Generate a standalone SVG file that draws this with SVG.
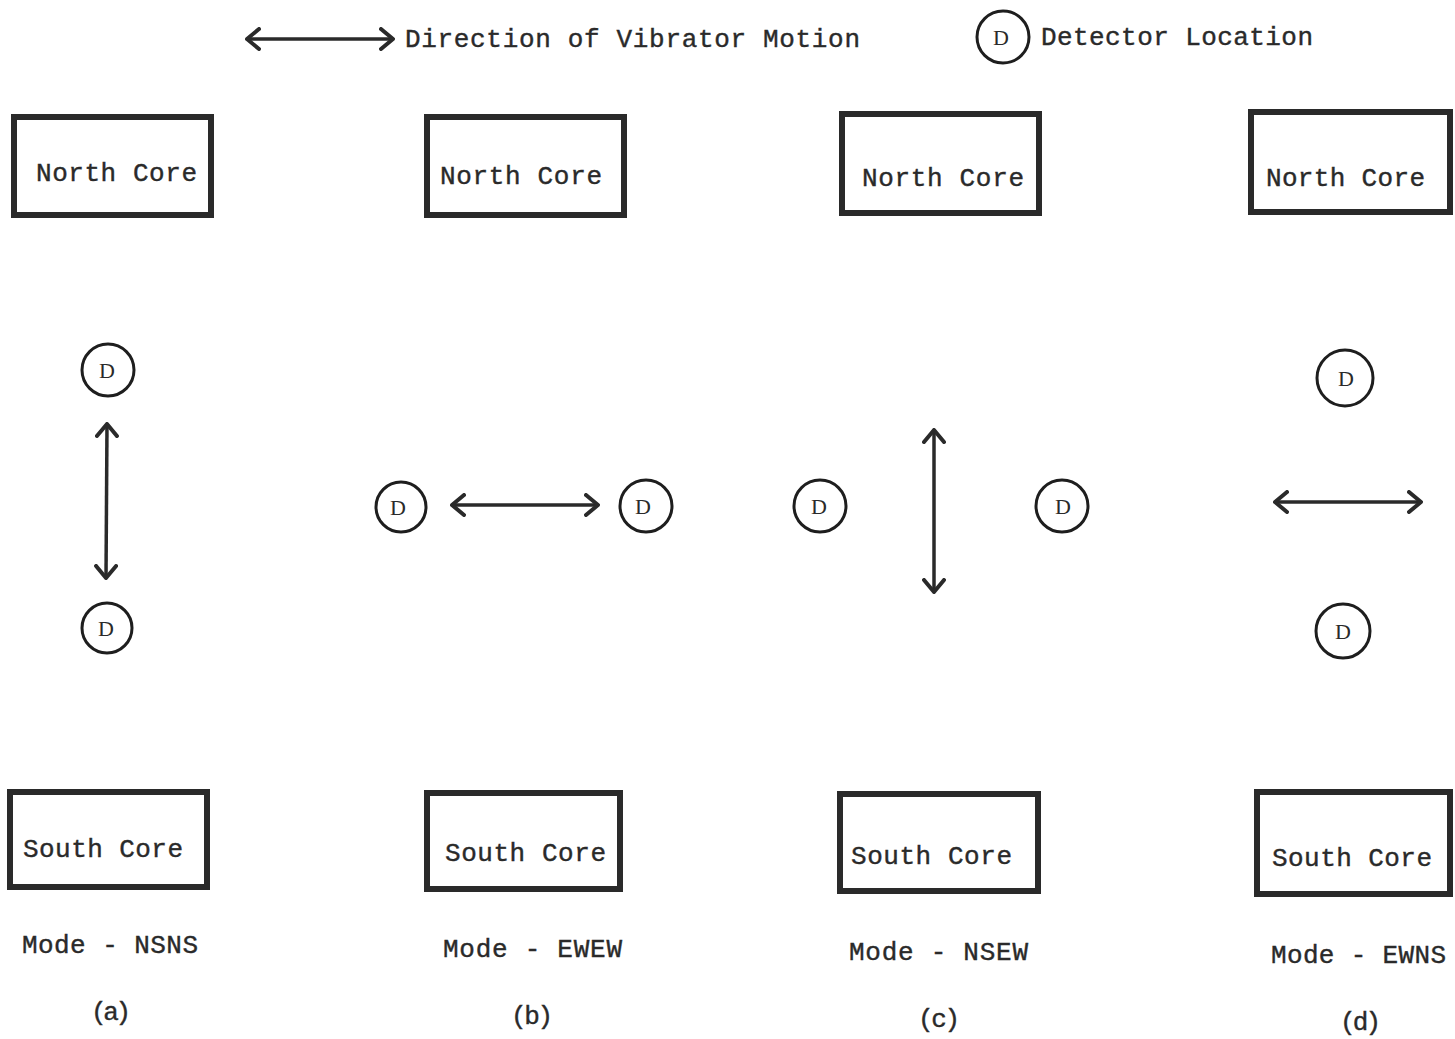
<svg xmlns="http://www.w3.org/2000/svg" width="1455" height="1039" viewBox="0 0 1455 1039">
<style>
.box{fill:#fff;stroke:#2a2a2a;stroke-width:6}
.det{fill:none;stroke:#1e1e1e;stroke-width:3}
.t{font-family:"Liberation Mono","Courier New",monospace;font-size:26px;fill:#2a2a2a;stroke:#2a2a2a;stroke-width:0.4}
.d{font-family:"Liberation Serif","Times New Roman",serif;font-size:22px;fill:#2a2a2a;text-anchor:middle}
.arr{fill:none;stroke:#2a2a2a;stroke-width:3.5;marker-start:url(#ah);marker-end:url(#ah)}
</style>
<defs>
<marker id="ah" viewBox="-14 -12 16 24" refX="0" refY="0" markerWidth="16" markerHeight="24" markerUnits="userSpaceOnUse" orient="auto-start-reverse">
<path d="M-12,-10 L0,0 L-12,10" fill="none" stroke="#2a2a2a" stroke-width="4" stroke-linecap="round" stroke-linejoin="round"/>
</marker>
</defs>
<rect width="1455" height="1039" fill="#fff"/>

<g id="legend">
<line class="arr" x1="247" y1="39" x2="393" y2="39"/>
<text class="t" x="405" y="47" textLength="455">Direction of Vibrator Motion</text>
<circle class="det" cx="1003" cy="37" r="26"/>
<text class="d" x="1001" y="45">D</text>
<text class="t" x="1041" y="45" textLength="272">Detector Location</text>
</g>

<g id="north-a"><rect class="box" x="14" y="117" width="197" height="98"/><text class="t" x="36" y="181" textLength="161">North Core</text></g>
<g id="north-b"><rect class="box" x="427" y="117" width="197" height="98"/><text class="t" x="440" y="184" textLength="162">North Core</text></g>
<g id="north-c"><rect class="box" x="842" y="114" width="197" height="99"/><text class="t" x="862" y="186" textLength="162">North Core</text></g>
<g id="north-d"><rect class="box" x="1251" y="112" width="199" height="100"/><text class="t" x="1266" y="186" textLength="159">North Core</text></g>

<g id="south-a"><rect class="box" x="10" y="792" width="197" height="95"/><text class="t" x="23" y="857" textLength="160">South Core</text></g>
<g id="south-b"><rect class="box" x="427" y="793" width="193" height="96"/><text class="t" x="445" y="861" textLength="161">South Core</text></g>
<g id="south-c"><rect class="box" x="840" y="794" width="198" height="97"/><text class="t" x="851" y="864" textLength="161">South Core</text></g>
<g id="south-d"><rect class="box" x="1257" y="792" width="193" height="102"/><text class="t" x="1272" y="866" textLength="160">South Core</text></g>

<g id="det-a1"><circle class="det" cx="108" cy="370" r="26"/><text class="d" x="107" y="378">D</text></g>
<g id="det-a2"><circle class="det" cx="107" cy="628" r="25"/><text class="d" x="106" y="636">D</text></g>
<g id="det-b1"><circle class="det" cx="401" cy="507" r="25"/><text class="d" x="398" y="515">D</text></g>
<g id="det-b2"><circle class="det" cx="646" cy="506" r="26"/><text class="d" x="643" y="514">D</text></g>
<g id="det-c1"><circle class="det" cx="820" cy="506" r="26"/><text class="d" x="819" y="514">D</text></g>
<g id="det-c2"><circle class="det" cx="1062" cy="506" r="26"/><text class="d" x="1063" y="514">D</text></g>
<g id="det-d1"><circle class="det" cx="1345" cy="378" r="28"/><text class="d" x="1346" y="386">D</text></g>
<g id="det-d2"><circle class="det" cx="1343" cy="631" r="27"/><text class="d" x="1343" y="639">D</text></g>

<g id="connectors">
<line class="arr" x1="107" y1="424" x2="106" y2="578"/>
<line class="arr" x1="452" y1="505" x2="598" y2="505"/>
<line class="arr" x1="934" y1="430" x2="934" y2="592"/>
<line class="arr" x1="1275" y1="502" x2="1421" y2="502"/>
</g>

<g id="labels">
<text class="t" x="22" y="953" textLength="176">Mode - NSNS</text>
<text class="t" x="443" y="957" textLength="179">Mode - EWEW</text>
<text class="t" x="849" y="960" textLength="179">Mode - NSEW</text>
<text class="t" x="1271" y="963" textLength="175">Mode - EWNS</text>
<text class="t" x="91" y="1020" textLength="40">(a)</text>
<text class="t" x="511" y="1024" textLength="42">(b)</text>
<text class="t" x="918" y="1027" textLength="42">(c)</text>
<text class="t" x="1340" y="1030" textLength="41">(d)</text>
</g>
</svg>
